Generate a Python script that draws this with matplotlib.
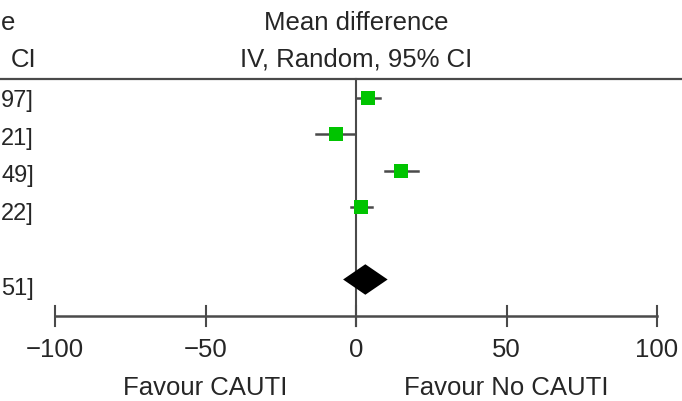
import numpy as np
import matplotlib
matplotlib.use("Agg")
import matplotlib.pyplot as plt

plt.rcParams['font.family'] = ['Liberation Sans', 'DejaVu Sans']

# study estimates (mean difference, 95% CI)
means = [4.02, -6.71, 15.00, 1.70]
lower = [0.07, -13.21, 9.51, -1.82]
upper = [7.97, -0.21, 20.49, 5.22]

# pooled estimate
pooled_mean = 3.10
pooled_lower = -4.29
pooled_upper = 10.51

ticks = [-100, -50, 0, 50, 100]
tick_labels = ['\u2212100', '\u221250', '0', '50', '100']
favour_left = 'Favour CAUTI'
favour_right = 'Favour No CAUTI'
header_top = 'Mean difference'
header_sub = 'IV, Random, 95% CI'

def fmt(m, lo, hi):
    s = lambda v: f"{v:.2f}".replace('-', '\u2212')
    return f"{s(m)} [{s(lo)}, {s(hi)}]"

W, H = 682, 401
fig = plt.figure(figsize=(W / 100, H / 100), dpi=100)
ax = fig.add_axes([0, 0, 1, 1])

# pixel -> data mapping: x: -100 at px 55, 100 at px 657 ; rows 36.3 px apart, first row at px 98
sx = (657 - 55) / 200
ax.set_xlim(-100 - 55 / sx, 100 + (W - 657) / sx)
row_h = 36.3
ax.set_ylim((H - 98) / row_h, -98 / row_h)
ax.axis('off')
x_left = ax.get_xlim()[0]

line_col = '#4a4a4a'
fs = 18.5
fs_rows = 17
text_col = '#262626'

# header
ax.axhline(-0.52, color=line_col, lw=1.6)
ax.text(0, -2.07, header_top, ha='center', va='center', fontsize=fs, color=text_col)
ax.text(0, -1.05, header_sub, ha='center', va='center', fontsize=fs, color=text_col)
# left column header: only the tail is inside the picture
ax.text(x_left + 15 / sx, -2.07, header_top[-1:], ha='right', va='center', fontsize=fs, color=text_col)
ax.text(x_left + 36 / sx, -1.05, header_sub[-2:], ha='right', va='center', fontsize=fs, color=text_col)

# zero line
ax.plot([0, 0], [-0.52, 6.27], color=line_col, lw=1.5, zorder=1)

def text_row(i):
    # left-panel text rows sit on a slightly wider pitch than the plot rows
    return (101 + 37.6 * i - 98) / row_h

# study rows
rows = np.arange(len(means))
for i, (m, lo, hi) in enumerate(zip(means, lower, upper)):
    ax.plot([lo, hi], [i, i], color=line_col, lw=1.8, zorder=2)
    ax.text(x_left + 34 / sx, text_row(i), fmt(m, lo, hi)[-3:], ha='right', va='center',
            fontsize=fs_rows, color=text_col)
ax.scatter(means, rows, marker='s', s=(14 * 0.72) ** 2, color='#00c400', zorder=3, linewidths=0)

# pooled diamond
py = 5
ax.fill([pooled_lower, pooled_mean, pooled_upper, pooled_mean],
        [py, py - 0.42, py, py + 0.42], color='black', zorder=3, lw=0)
ax.text(x_left + 34 / sx, text_row(5), fmt(pooled_mean, pooled_lower, pooled_upper)[-3:],
        ha='right', va='center', fontsize=fs_rows, color=text_col)

# x axis
ax.plot([ticks[0], ticks[-1]], [6, 6], color=line_col, lw=1.8, zorder=1)
for t, lab in zip(ticks, tick_labels):
    ax.plot([t, t], [5.73, 6.27], color=line_col, lw=1.5)
    ax.text(t, 6.94, lab, ha='center', va='center', fontsize=fs, color=text_col)
ax.text(-50, 7.99, favour_left, ha='center', va='center', fontsize=fs, color=text_col)
ax.text(50, 7.99, favour_right, ha='center', va='center', fontsize=fs, color=text_col)

fig.savefig('out.png', dpi=100)
